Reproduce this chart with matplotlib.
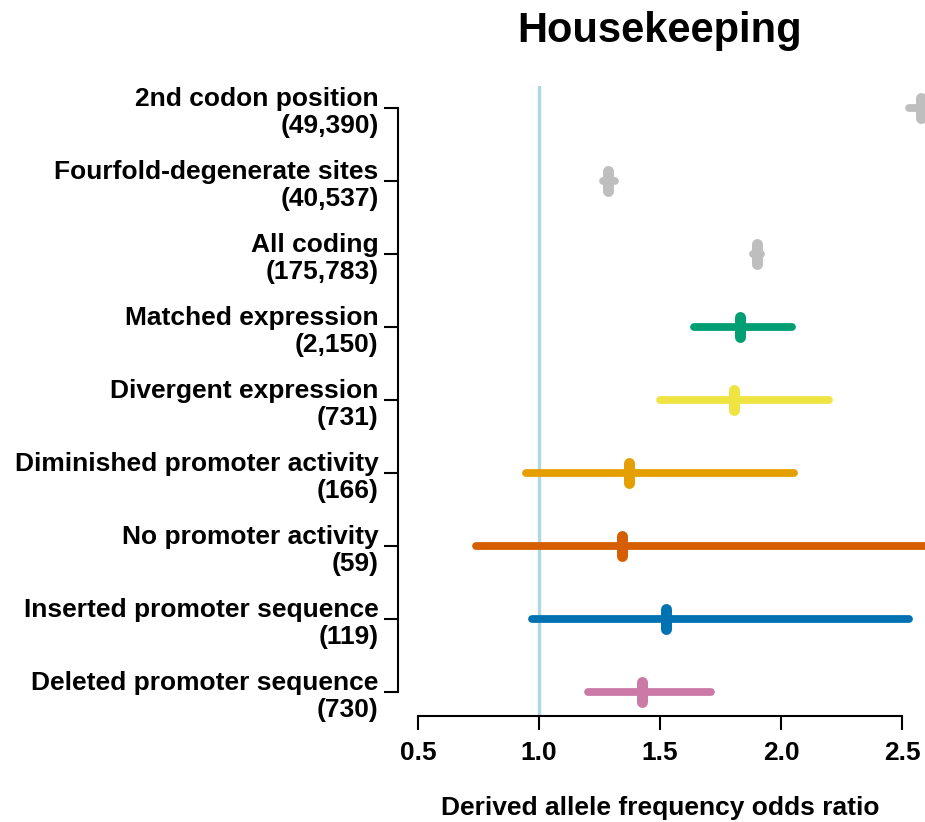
import matplotlib

matplotlib.use("Agg")
import matplotlib.pyplot as plt

plt.rcParams["font.family"] = ["Liberation Sans", "DejaVu Sans"]
plt.rcParams["font.weight"] = "bold"

# rows from top to bottom
labels = [
    "2nd codon position\n(49,390)",
    "Fourfold-degenerate sites\n(40,537)",
    "All coding\n(175,783)",
    "Matched expression\n(2,150)",
    "Divergent expression\n(731)",
    "Diminished promoter activity\n(166)",
    "No promoter activity\n(59)",
    "Inserted promoter sequence\n(119)",
    "Deleted promoter sequence\n(730)",
]
odds = [2.58, 1.285, 1.90, 1.829, 1.805, 1.370, 1.345, 1.526, 1.424]
ci_low = [2.53, 1.265, 1.885, 1.64, 1.50, 0.945, 0.74, 0.973, 1.203]
ci_high = [2.64, 1.315, 1.918, 2.044, 2.198, 2.054, 3.10, 2.527, 1.709]
colors = ["#BEBEBE", "#BEBEBE", "#BEBEBE", "#009E73", "#F0E442",
          "#E69F00", "#D55E00", "#0072B2", "#CC79A7"]

W, H = 925, 822
fig = plt.figure(figsize=(W / 100, H / 100), dpi=100)
ax = fig.add_axes([398 / W, 1 - 716 / H, (W - 398) / W, (716 - 86) / H])

ax.axvline(1.0, color="#ADD8E6", linewidth=2.4, zorder=1)

rows = list(range(len(labels)))
for i in rows:
    ax.plot([ci_low[i], ci_high[i]], [i, i], color=colors[i], linewidth=5.6,
            solid_capstyle="round", zorder=2)
    ax.plot([odds[i], odds[i]], [i - 0.135, i + 0.135], color=colors[i], linewidth=7.9,
            solid_capstyle="round", zorder=3)

ax.set_xlim(0.5 - 20 / 242, 0.5 + (W - 418) / 242)
ax.set_ylim(8 + 24 / 73, -22 / 73)

ax.set_yticks(rows)
ax.set_yticklabels(labels, fontsize=19, fontweight="bold", linespacing=1.18)
ax.set_xticks([0.5, 1.0, 1.5, 2.0, 2.5])
ax.set_xticklabels(["0.5", "1.0", "1.5", "2.0", "2.5"], fontsize=19, fontweight="bold")

for side in ["top", "right"]:
    ax.spines[side].set_visible(False)
ax.spines["left"].set_bounds(0, 8)
ax.spines["bottom"].set_bounds(0.5, 2.5)
ax.spines["left"].set_linewidth(1.5)
ax.spines["bottom"].set_linewidth(1.5)
ax.tick_params(axis="y", length=10, width=1.5, pad=4)
ax.tick_params(axis="x", length=10, width=1.5, pad=8)

fig.text(660 / W, 1 - 31 / H, "Housekeeping", ha="center", va="center",
         fontsize=30, fontweight="bold")
fig.text(660 / W, 1 - 808 / H, "Derived allele frequency odds ratio", ha="center",
         va="center", fontsize=19, fontweight="bold")

fig.savefig("out.png", dpi=100)
